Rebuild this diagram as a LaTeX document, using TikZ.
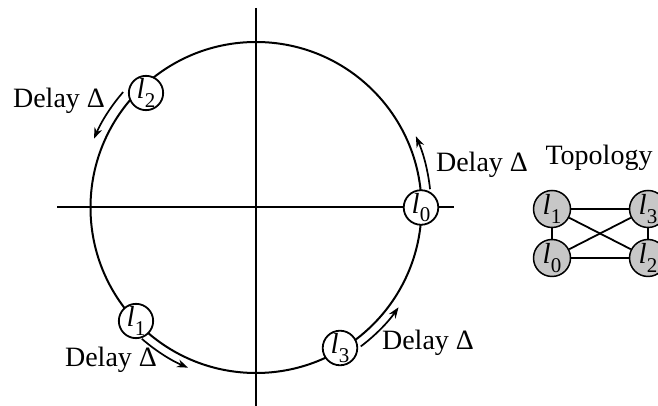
\documentclass[tikz,border=0pt]{standalone}
\usepackage{fontspec}
\setmainfont{Liberation Serif}
\usetikzlibrary{arrows.meta}
\newcommand\lsub[1]{\textit{l}\kern0.2pt\raisebox{-0.3em}{\fontsize{21}{21}\selectfont #1}}
\begin{document}
\begin{tikzpicture}[x=1pt,y=1pt,
  ax/.style={line width=2pt},
  ring/.style={line width=2pt},
  pt/.style={circle,draw,line width=1.8pt,fill=white,inner sep=0pt,minimum size=31pt,font=\fontsize{29}{29}\selectfont},
  tp/.style={circle,draw,line width=1.5pt,fill=black!22,inner sep=0pt,minimum size=37pt,font=\fontsize{29}{29}\selectfont},
  dl/.style={font=\fontsize{28}{30}\selectfont,inner sep=0pt},
  darr/.style={line width=1.7pt,-{Stealth[length=11pt,width=8pt]}},
  edge/.style={line width=1.8pt}]
\useasboundingbox (0,0) rectangle (658,406);
\coordinate (O) at (256,198.5);
\coordinate (vt) at (256,398);
\coordinate (vb) at (256,0);
\coordinate (hl) at (57,198.5);
\coordinate (hr) at (454,198.5);
\draw[ax] (vt) -- (vb);
\draw[ax] (hl) -- (hr);
\draw[ring] (O) circle (165.5pt);
% arrows
\draw[darr] ([shift={(O)}]6:175pt) arc[start angle=6,end angle=24,radius=175pt];
\draw[darr] ([shift={(O)}]139:176pt) arc[start angle=139,end angle=157,radius=176pt];
\draw[darr] ([shift={(O)}]229:174pt) arc[start angle=229,end angle=247,radius=174pt];
\draw[darr] ([shift={(O)}]307:174pt) arc[start angle=307,end angle=325,radius=174pt];
% nodes on circle
\node[pt] (l0) at ([shift={(O)}]0:165pt) {\lsub{0}};
\node[pt] (l2) at (146,313) {\lsub{2}};
\node[pt] (l1) at (136,85) {\lsub{1}};
\node[pt] (l3) at (340,58) {\lsub{3}};
% labels
\node[dl] (d2) at (59,305) {Delay Δ};
\node[dl] (d0) at (482,241) {Delay Δ};
\node[dl] (d1) at (111,46) {Delay Δ};
\node[dl] (d3) at (428,63) {Delay Δ};
% topology
\node[dl] (top) at (599,248) {Topology};
\node[tp] (t1) at (552,197) {\lsub{1}};
\node[tp] (t3) at (648,197) {\lsub{3}};
\node[tp] (t0) at (552,148) {\lsub{0}};
\node[tp] (t2) at (648,148) {\lsub{2}};
\draw[edge] (t1) -- (t3);
\draw[edge] (t0) -- (t2);
\draw[edge] (t1) -- (t0);
\draw[edge] (t3) -- (t2);
\draw[edge] (t1) -- (t2);
\draw[edge] (t0) -- (t3);
\end{tikzpicture}
\end{document}
